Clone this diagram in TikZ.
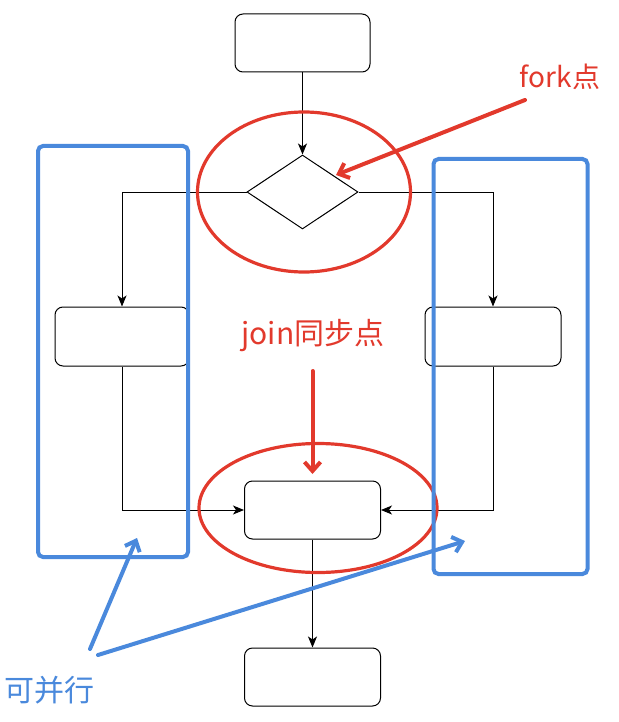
\documentclass[tikz,border=0pt]{standalone}
\usepackage{fontspec}
\newfontfamily\cjk{Noto Sans CJK SC}
\usetikzlibrary{arrows.meta,shapes.geometric}
\definecolor{myred}{HTML}{E2392C}
\definecolor{myblue}{HTML}{4A89DC}
\tikzset{
  proc/.style={draw=black, line width=1pt, rounded corners=8pt, fill=white, minimum width=135pt, minimum height=58pt, inner sep=0pt},
  flow/.style={draw=black, line width=1pt, -{Stealth[length=11pt,width=9pt,inset=3pt]}},
  redring/.style={draw=myred, line width=3.2pt, ellipse, inner sep=0pt},
  bluebox/.style={draw=myblue, line width=4pt, rounded corners=5pt, inner sep=0pt},
  redarrow/.style={draw=myred, line width=4pt, line cap=round, -{Straight Barb[length=9pt,width=16pt,line width=4pt]}},
  bluearrow/.style={draw=myblue, line width=4pt, line cap=round, -{Straight Barb[length=9pt,width=16pt,line width=4pt]}},
  redlabel/.style={text=myred, inner sep=0pt},
  bluelabel/.style={text=myblue, font=\cjk\fontsize{30}{34}\selectfont, inner sep=0pt},
}
\begin{document}
\begin{tikzpicture}[x=1pt,y=-1pt]
\useasboundingbox (0,0) rectangle (618,722);
% flowchart
\node[proc] (top) at (302.5,43) {};
\node[draw=black, line width=1pt, diamond, minimum width=111pt, minimum height=74pt, inner sep=0pt, fill=white] (dia) at (302.5,192) {};
\node[proc, minimum width=134pt, minimum height=59pt] (lbox) at (122,336.5) {};
\node[proc, minimum width=136pt, minimum height=59pt] (rbox) at (493,336.5) {};
\node[proc, minimum width=136pt] (join) at (312.5,510) {};
\node[proc, minimum width=136pt] (bot) at (312.5,677) {};
\draw[flow] (top.south) -- (dia.north);
\draw[flow] (dia.west) -| (lbox.north);
\draw[flow] (dia.east) -| (rbox.north);
\draw[flow] (lbox.south) |- (join.west);
\draw[flow] (rbox.south) |- (join.east);
\draw[flow] (join.south) -- (bot.north);
% red rings
\node[redring, minimum width=213pt, minimum height=160pt] (forkring) at (304,192) {};
\node[redring, minimum width=238pt, minimum height=129pt] (joinring) at (318,508) {};
% blue boxes
\node[bluebox, minimum width=150pt, minimum height=411pt] (lpar) at (113,351.5) {};
\node[bluebox, minimum width=154pt, minimum height=415pt] (rpar) at (510.5,366.5) {};
% labels
\node[redlabel, font=\cjk\fontsize{28}{32}\selectfont] (forklbl) at (560,77) {fork点};
\node[redlabel, font=\cjk\fontsize{30}{34}\selectfont] (joinlbl) at (313,336) {join同步点};
\node[bluelabel] (parlbl) at (50,690) {可并行};
% annotation arrows
\coordinate (fs) at (525,100);
\coordinate (fe) at (336,175);
\draw[redarrow] (fs) -- (fe);
\coordinate (js) at (312.5,371);
\coordinate (je) at (312.5,474);
\draw[redarrow] (js) -- (je);
\coordinate (b1s) at (90,649);
\coordinate (b1e) at (137,538);
\coordinate (b2s) at (98,655);
\coordinate (b2e) at (465,541);
\draw[bluearrow] (b1s) -- (b1e);
\draw[bluearrow] (b2s) -- (b2e);
\end{tikzpicture}
\end{document}
